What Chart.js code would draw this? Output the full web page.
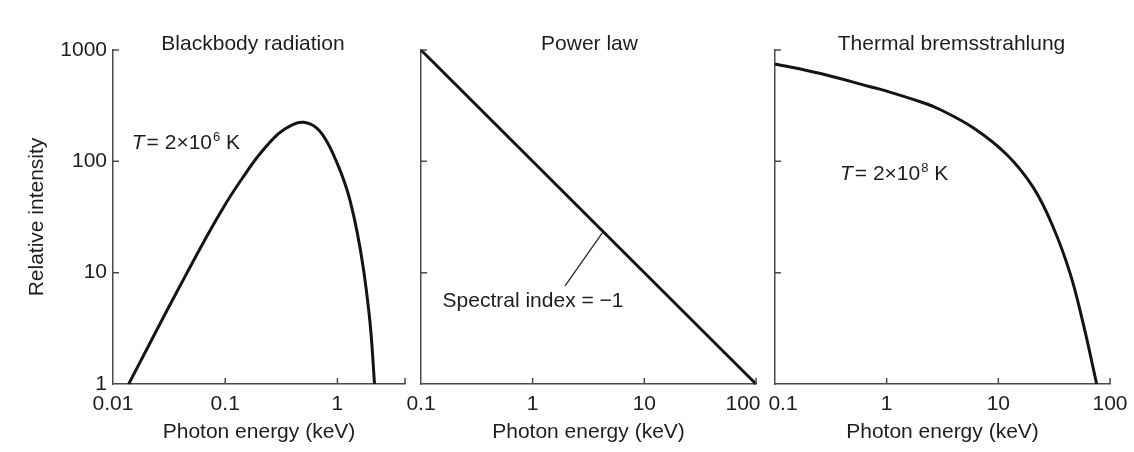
<!DOCTYPE html>
<html>
<head>
<meta charset="utf-8">
<script src="https://cdn.jsdelivr.net/npm/chart.js@4.4.1/dist/chart.umd.min.js"></script>
<style>
body { margin: 0; background: #fff; }
#wrap { position: relative; width: 1134px; height: 452px; }
canvas { position: absolute; top: 0; }
</style>
</head>
<body>
<div id="wrap">
  <canvas id="bb" width="414" height="452" style="left:0px"></canvas>
  <canvas id="pl" width="366" height="452" style="left:400px"></canvas>
  <canvas id="tb" width="368" height="452" style="left:766px"></canvas>
</div>
<script>
// blackbody, T = 2x10^6 K
const bbEnergy = [0.0138, 0.02, 0.03, 0.045, 0.07, 0.1, 0.14, 0.2, 0.3, 0.4, 0.5, 0.65, 0.8, 1.0, 1.15, 1.3, 1.5, 1.7, 1.9, 2.0, 2.14];
const bbIntensity = [1, 2.05, 4.5, 9.7, 22, 41, 69, 114, 178, 214, 224, 200, 152, 95, 66, 44, 23, 11, 4.6, 2.7, 1];

// power law, spectral index -1
const plEnergy = [0.1, 100];
const plIntensity = [1000, 1];
const leaderEnergy = [1.95, 4.28];
const leaderIntensity = [7.6, 23.4];

// thermal bremsstrahlung, T = 2x10^8 K
const tbEnergy = [0.1, 0.25, 0.7, 1.0, 2.0, 3.0, 6.0, 12, 20.6, 31, 44, 57.5, 76];
const tbIntensity = [750, 618, 470, 427, 343, 292, 199, 114, 58, 25.6, 9.8, 3.5, 1];

// axis ticks
const yTicks = [1, 10, 100, 1000];
const yTickLabels = ['1', '10', '100', '1000'];
const bbXTicks = [0.01, 0.1, 1];
const bbXLabels = ['0.01', '0.1', '1'];
const keVTicks = [0.1, 1, 10, 100];
const keVLabels = ['0.1', '1', '10', '100'];

const FONT = '"Liberation Sans", Arial, Helvetica, sans-serif';
const TEXT = '#1e1e1e';
const AXIS = '#4a4a4a';
const INK = '#141414';

Chart.defaults.font.family = FONT;
Chart.defaults.font.size = 21;
Chart.defaults.color = TEXT;

function pts(xs, ys) {
    return xs.map((x, i) => ({ x: x, y: ys[i] }));
}

// T = 2x10^n K with italic T and raised exponent
function drawTemp(ctx, x, y, exp) {
    ctx.textAlign = 'left';
    ctx.font = 'italic 21px ' + FONT;
    ctx.fillText('T', x, y);
    x += ctx.measureText('T').width + 2;
    ctx.font = '21px ' + FONT;
    ctx.fillText('= 2×10', x, y);
    x += ctx.measureText('= 2×10').width + 1;
    ctx.font = '13px ' + FONT;
    ctx.fillText(exp, x, y - 8);
    x += ctx.measureText(exp).width;
    ctx.font = '21px ' + FONT;
    ctx.fillText(' K', x, y);
}

function decor(cfg) {
    return {
        id: 'decor',
        afterDraw(chart) {
            const { ctx, chartArea: a } = chart;
            const x = chart.scales.x, y = chart.scales.y;
            ctx.save();
            // tick marks point into the plot
            ctx.strokeStyle = AXIS;
            ctx.lineWidth = 1.5;
            ctx.beginPath();
            cfg.xMarks.forEach(v => {
                const px = x.getPixelForValue(v);
                ctx.moveTo(px, a.bottom);
                ctx.lineTo(px, a.bottom - 6);
            });
            [10, 100, 1000].forEach(v => {
                const py = y.getPixelForValue(v);
                ctx.moveTo(a.left, py);
                ctx.lineTo(a.left + 6, py);
            });
            ctx.stroke();

            ctx.fillStyle = TEXT;
            ctx.font = '21px ' + FONT;
            ctx.textAlign = 'center';
            ctx.textBaseline = 'alphabetic';
            cfg.xTicks.forEach((v, i) => {
                ctx.fillText(cfg.xLabels[i], x.getPixelForValue(v) + (cfg.nudge[i] || 0), a.bottom + 26);
            });
            ctx.fillText(cfg.title, (a.left + a.right) / 2 + cfg.titleShift, 49.5);

            if (cfg.temp) {
                drawTemp(ctx, x.getPixelForValue(cfg.temp.at[0]), y.getPixelForValue(cfg.temp.at[1]), cfg.temp.exp);
            }
            if (cfg.note) {
                ctx.textAlign = 'left';
                ctx.font = '21px ' + FONT;
                ctx.fillText(cfg.note.text, x.getPixelForValue(cfg.note.at[0]), y.getPixelForValue(cfg.note.at[1]));
            }
            ctx.restore();
        }
    };
}

function makePanel(id, cfg) {
    const canvas = document.getElementById(id);
    new Chart(canvas, {
        type: 'line',
        data: { datasets: cfg.datasets },
        options: {
            responsive: false,
            animation: false,
            layout: { padding: { left: 0, right: cfg.padRight, top: 50, bottom: 0 } },
            plugins: { legend: { display: false }, tooltip: { enabled: false } },
            elements: { point: { radius: 0 } },
            scales: {
                x: {
                    type: 'logarithmic',
                    min: cfg.xMin,
                    max: cfg.xMax,
                    afterFit: s => { s.height = 68; },
                    grid: { display: false },
                    border: { display: true, color: AXIS, width: 1.5 },
                    ticks: { display: false },
                    title: { display: true, text: 'Photon energy (keV)', color: TEXT, padding: { top: 0, bottom: 7 } }
                },
                y: {
                    type: 'logarithmic',
                    min: 1,
                    max: 1000,
                    afterBuildTicks: s => { s.ticks = yTicks.map(v => ({ value: v })); },
                    afterFit: s => { s.width = cfg.axisLeft; },
                    grid: { display: false, drawTicks: false },
                    border: { display: true, color: AXIS, width: 1.5 },
                    ticks: { display: cfg.yLabels, padding: 6, color: TEXT, callback: (v, i) => yTickLabels[i] },
                    title: { display: cfg.yLabels, text: 'Relative intensity', color: TEXT, padding: { top: 25, bottom: 0 } }
                }
            }
        },
        plugins: [decor(cfg)]
    });
}

// smooth spline through the read-off points
const curve = { borderColor: INK, borderWidth: 3, fill: false, tension: 0.4, clip: 4 };

makePanel('bb', {
    datasets: [Object.assign({ data: pts(bbEnergy, bbIntensity) }, curve)],
    xMin: 0.01, xMax: 4, axisLeft: 113, padRight: 9, yLabels: true,
    xTicks: bbXTicks, xLabels: bbXLabels, nudge: [], xMarks: [0.1, 1, 4],
    title: 'Blackbody radiation', titleShift: -6,
    temp: { at: [0.0147, 128], exp: '6' }
});

makePanel('pl', {
    datasets: [
        Object.assign({ data: pts(plEnergy, plIntensity) }, curve, { tension: 0 }),
        { data: pts(leaderEnergy, leaderIntensity), borderColor: '#2a2a2a', borderWidth: 1.3, fill: false, tension: 0 }
    ],
    xMin: 0.1, xMax: 100, axisLeft: 21, padRight: 10, yLabels: false,
    xTicks: keVTicks, xLabels: keVLabels, nudge: [0, 0, 0, -13], xMarks: [1, 10, 100],
    title: 'Power law', titleShift: 1,
    note: { text: 'Spectral index = −1', at: [0.156, 4.95] }
});

makePanel('tb', {
    datasets: [Object.assign({ data: pts(tbEnergy, tbIntensity) }, curve)],
    xMin: 0.1, xMax: 100, axisLeft: 9, padRight: 24, yLabels: false,
    xTicks: keVTicks, xLabels: keVLabels, nudge: [8, 0, 0, 0], xMarks: [1, 10, 100],
    title: 'Thermal bremsstrahlung', titleShift: 9,
    temp: { at: [0.382, 68], exp: '8' }
});
</script>
</body>
</html>
